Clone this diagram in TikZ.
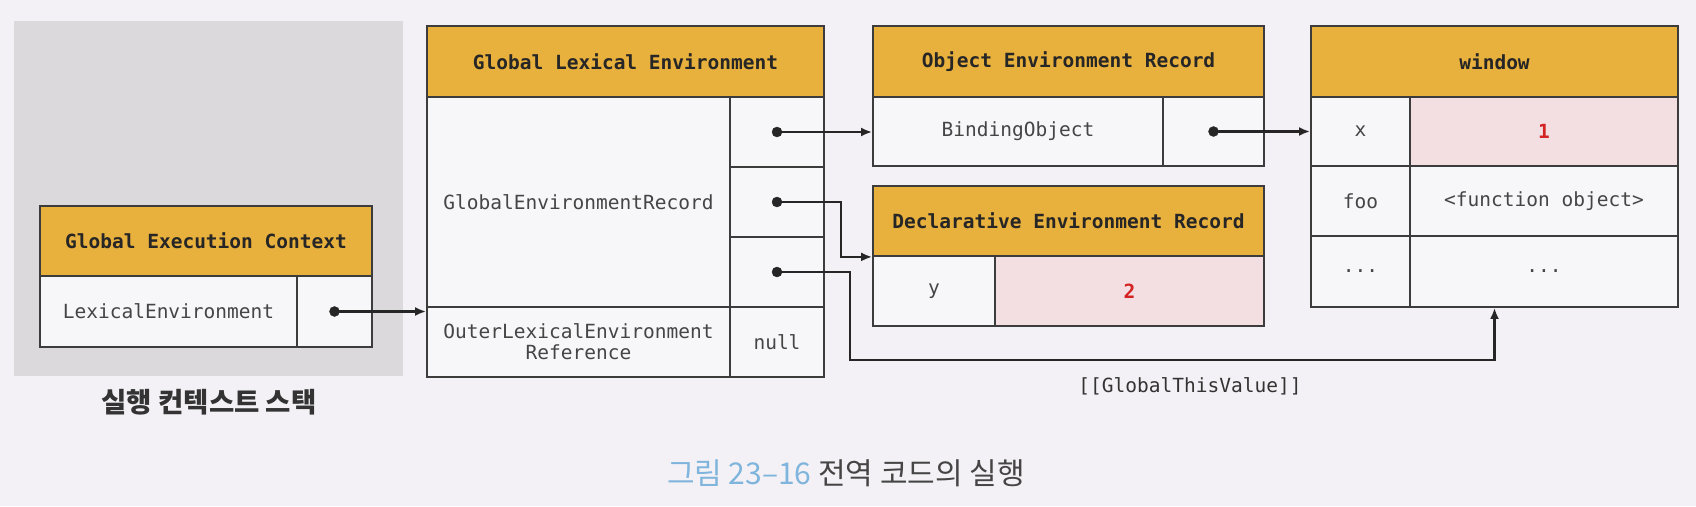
\documentclass[tikz,border=0pt]{standalone}
\usepackage{fontspec}
\setmonofont{DejaVu Sans Mono}
\newfontfamily\krfont{Noto Sans CJK KR}
\usetikzlibrary{arrows.meta}

\definecolor{bgc}{HTML}{F3F1F5}
\definecolor{stackc}{HTML}{DCD9DD}
\definecolor{headc}{HTML}{E8B03C}
\definecolor{cellc}{HTML}{F7F6F8}
\definecolor{pinkc}{HTML}{F3DFE2}
\definecolor{linec}{HTML}{3C3C3C}
\definecolor{valred}{HTML}{D42323}
\definecolor{capblue}{HTML}{7FB5DC}
\definecolor{textc}{HTML}{454545}

\tikzset{
  box/.style={draw=linec, line width=1.8pt, inner sep=0pt, minimum height=70pt},
  headbox/.style={box, fill=headc, text=black!85,
    font=\ttfamily\bfseries\fontsize{19.5}{23}\selectfont},
  cellbox/.style={box, fill=cellc, text=textc,
    font=\ttfamily\fontsize{19.5}{23}\selectfont},
  valbox/.style={box, fill=pinkc, text=valred,
    font=\ttfamily\bfseries\fontsize{19.5}{23}\selectfont},
  link/.style={line width=2.2pt, black!85, -{Latex[length=11pt,width=9pt]}},
}

\begin{document}
\begin{tikzpicture}[x=1pt, y=-1pt]
        \fill[bgc] (0,0) rectangle (1696,506);
        %execution context stack
        \fill[stackc] (14,21) rectangle (403,376);
        \node[font=\krfont\bfseries\fontsize{27.5}{30}\selectfont, text=black!80] (stacklabel) at (209,402) {실행 컨텍스트 스택};
        \node[headbox, minimum width=332pt] (gechead) at (206,241) {Global Execution Context};
        \node[cellbox, minimum width=257pt, minimum height=71pt] (geckey) at (168.5,311.5) {LexicalEnvironment};
        \node[cellbox, minimum width=75pt, minimum height=71pt] (gecptr) at (334.5,311.5) {};
        %global lexical environment
        \node[headbox, minimum width=397pt, minimum height=71pt] (glehead) at (625.5,61.5) {Global Lexical Environment};
        \node[cellbox, minimum width=303pt, minimum height=210pt] (glerec) at (578.5,202) {GlobalEnvironmentRecord};
        \node[cellbox, minimum width=94pt] (gleptra) at (777,132) {};
        \node[cellbox, minimum width=94pt] (gleptrb) at (777,202) {};
        \node[cellbox, minimum width=94pt] (gleptrc) at (777,272) {};
        \node[cellbox, minimum width=303pt, align=center] (gleouter) at (578.5,342) {OuterLexicalEnvironment\\[-2pt]Reference};
        \node[cellbox, minimum width=94pt] (glenull) at (777,342) {null};
        %object environment record
        \node[headbox, minimum width=391pt, minimum height=71pt] (objhead) at (1068.5,61.5) {Object Environment Record};
        \node[cellbox, minimum width=290pt, minimum height=69pt] (objkey) at (1018,131.5) {BindingObject};
        \node[cellbox, minimum width=101pt, minimum height=69pt] (objptr) at (1213.5,131.5) {};
        %declarative environment record
        \node[headbox, minimum width=391pt] (dechead) at (1068.5,221) {Declarative Environment Record};
        \node[cellbox, minimum width=122pt] (deckey) at (934,291) {y};
        \node[valbox, minimum width=269pt] (decval) at (1129.5,291) {2};
        %window
        \node[headbox, minimum width=367pt, minimum height=71pt] (winhead) at (1494.5,61.5) {window};
        \node[cellbox, minimum width=99pt, minimum height=69pt] (winxkey) at (1360.5,131.5) {x};
        \node[valbox, minimum width=268pt, minimum height=69pt] (winxval) at (1544,131.5) {1};
        \node[cellbox, minimum width=99pt] (winfookey) at (1360.5,201) {foo};
        \node[cellbox, minimum width=268pt] (winfooval) at (1544,201) {<function object>};
        \node[cellbox, minimum width=99pt, minimum height=71pt] (winetckey) at (1360.5,271.5) {...};
        \node[cellbox, minimum width=268pt, minimum height=71pt] (winetcval) at (1544,271.5) {...};
        %links
        \filldraw[black!85] (gecptr.center) circle (5pt);
        \draw[link] (gecptr.center) -- (gecptr.center -| glerec.west);
        \filldraw[black!85] (gleptra.center) circle (5pt);
        \draw[link] (gleptra.center) -- (gleptra.center -| objkey.west);
        \filldraw[black!85] (gleptrb.center) circle (5pt);
        \draw[link] (gleptrb.center) -- ++(64,0) |- (dechead.south west);
        \filldraw[black!85] (gleptrc.center) circle (5pt);
        \coordinate (loopleft) at (850,360);
        \draw[link] (gleptrc.center) -| (loopleft) -| (winhead.center |- winetcval.south);
        \filldraw[black!85] (objptr.center) circle (5pt);
        \draw[link] (objptr.center) -- (objptr.center -| winxkey.west);
        \node[font=\ttfamily\fontsize{19.5}{23}\selectfont, text=black!80] (thislabel) at (1190,386) {[[GlobalThisValue]]};
        %caption
        \node[font=\krfont\fontsize{30}{33}\selectfont, text=textc] (caption) at (846,473) {\textcolor{capblue}{그림 23–16} 전역 코드의 실행};
\end{tikzpicture}
\end{document}
